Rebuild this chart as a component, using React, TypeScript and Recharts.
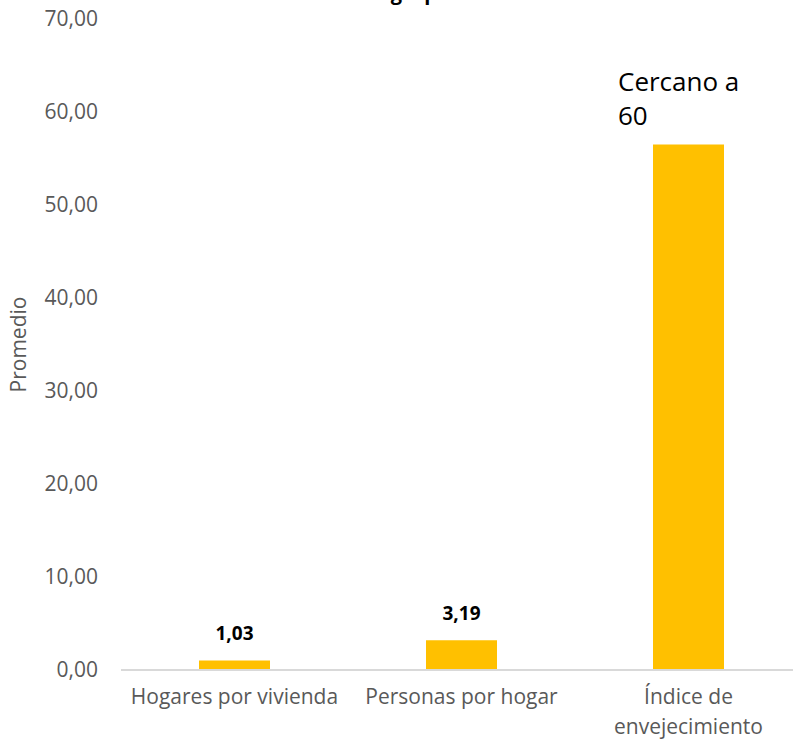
import React from 'react';
import { BarChart, Bar, XAxis, YAxis, LabelList } from 'recharts';

const categories = ['Hogares por vivienda', 'Personas por hogar', 'Índice de envejecimiento'];
const values = [1.03, 3.19, 56.5];
const valueLabels = ['1,03', '3,19', 'Cercano a 60'];
const yTicks = [0, 10, 20, 30, 40, 50, 60, 70];
const yAxisTitle = 'Promedio';
const chartTitle = 'Indicadores del grupo';

const data = categories.map((c, i) => ({ name: c, value: values[i] }));

const FONT = '"Open Sans", sans-serif';
const fmt = (v: number) => v.toFixed(2).replace('.', ',');

let measureCtx: CanvasRenderingContext2D | null = null;
function wrapText(text: string, fontSize: number, maxWidth: number): string[] {
  if (!measureCtx) {
    const c = document.createElement('canvas');
    measureCtx = c.getContext('2d');
  }
  const ctx = measureCtx!;
  ctx.font = `${fontSize}px "Open Sans", sans-serif`;
  const words = text.split(' ');
  const lines: string[] = [];
  let cur = '';
  words.forEach((w) => {
    const trial = cur ? cur + ' ' + w : w;
    if (cur && ctx.measureText(trial).width > maxWidth) {
      lines.push(cur);
      cur = w;
    } else {
      cur = trial;
    }
  });
  if (cur) lines.push(cur);
  return lines;
}

const CategoryTick = (props: any) => {
  const { x, y, payload } = props;
  const lines = wrapText(String(payload.value), 21, 215);
  return (
    <text
      x={x}
      y={y + 34}
      textAnchor="middle"
      fontFamily={FONT}
      fontSize={21}
      fill="#595959"
    >
      {lines.map((l, i) => (
        <tspan key={i} x={x} dy={i === 0 ? 0 : 30}>
          {l}
        </tspan>
      ))}
    </text>
  );
};

const ValueLabel = (props: any) => {
  const { x, y, width, index } = props;
  const text = valueLabels[index];
  if (index === 2) {
    const lines = wrapText(text, 26, 135);
    return (
      <g>
        {lines.map((l, i) => (
          <text
            key={i}
            x={x - 35}
            y={y - 54 + i * 34}
            textAnchor="start"
            fontFamily={FONT}
            fontSize={26}
            fill="#000000"
          >
            {l}
          </text>
        ))}
      </g>
    );
  }
  return (
    <text
      x={x + width / 2}
      y={y - 20}
      textAnchor="middle"
      fontFamily={FONT}
      fontWeight="bold"
      fontSize={19}
      fill="#000000"
    >
      {text}
    </text>
  );
};

const YTitle = (props: any) => {
  const { viewBox } = props;
  const cy = viewBox.y + viewBox.height / 2;
  return (
    <text
      transform={`translate(18, ${cy}) rotate(-90)`}
      textAnchor="middle"
      dominantBaseline="central"
      fontFamily={FONT}
      fontSize={21}
      fill="#595959"
    >
      {yAxisTitle}
    </text>
  );
};

export default function App() {
  return (
    <div
      style={{
        position: 'absolute',
        left: 0,
        top: 0,
        width: 793,
        height: 741,
        overflow: 'hidden',
        background: '#ffffff',
      }}
    >
      <svg
        width={793}
        height={20}
        style={{ position: 'absolute', left: 0, top: 0, overflow: 'visible', zIndex: 2 }}
      >
        <text x={233} y={0} fontFamily={FONT} fontWeight="bold" fontSize={20} fill="#000000">
          {chartTitle}
        </text>
      </svg>
      <BarChart
        width={802}
        height={741}
        data={data}
        margin={{ top: 19, right: 0, bottom: 11, left: 0 }}
      >
        <XAxis
          dataKey="name"
          height={60}
          axisLine={{ stroke: '#D9D9D9', strokeWidth: 2 }}
          tickLine={false}
          tickSize={0}
          tickMargin={0}
          tick={<CategoryTick />}
          interval={0}
        />
        <YAxis
          width={121}
          domain={[0, 70]}
          ticks={yTicks}
          tickFormatter={fmt}
          axisLine={false}
          tickLine={false}
          tickSize={0}
          tickMargin={23}
          tick={{ fontFamily: FONT, fontSize: 21, fill: '#595959' }}
          label={<YTitle />}
        />
        <Bar dataKey="value" fill="#FFC000" barSize={71} isAnimationActive={false}>
          <LabelList dataKey="value" content={<ValueLabel />} />
        </Bar>
      </BarChart>
    </div>
  );
}
